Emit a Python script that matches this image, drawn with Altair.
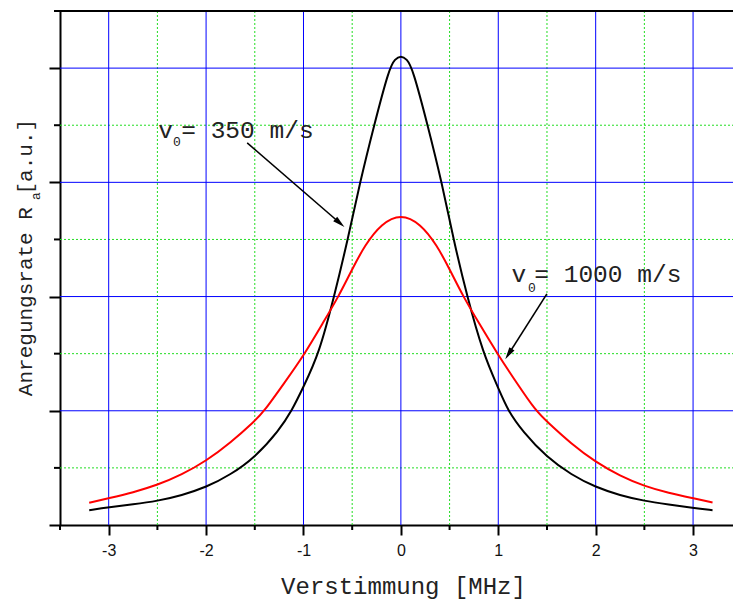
import altair as alt
import pandas as pd

# Excitation-rate profiles versus detuning for two atom velocities
black_x = [-3.2, -3.0, -2.75, -2.5, -2.25, -2.0, -1.75, -1.5, -1.25, -1.12, -1.0, -0.84,
           -0.685, -0.545, -0.42, -0.275, -0.12, -0.06, 0.0, 0.06, 0.12, 0.275, 0.42,
           0.54, 0.68, 0.845, 1.0, 1.10, 1.25, 1.5, 1.75, 2.0, 2.25, 2.5, 2.75, 3.0, 3.2]
black_y = [0.13, 0.155, 0.18, 0.21, 0.26, 0.33, 0.44, 0.59, 0.83, 1.0, 1.21, 1.5,
           2.0, 2.5, 3.0, 3.5, 4.0, 4.08, 4.11, 4.08, 4.0, 3.5, 3.0,
           2.5, 2.0, 1.5, 1.2, 1.0, 0.82, 0.59, 0.44, 0.33, 0.26, 0.21, 0.18, 0.15, 0.13]

red_x = [-3.2, -3.0, -2.75, -2.5, -2.25, -2.0, -1.75, -1.5, -1.4, -1.2, -1.0, -0.8,
         -0.64, -0.5, -0.37, -0.2, 0.0, 0.2, 0.37, 0.5, 0.64, 0.8, 0.99, 1.2, 1.385,
         1.5, 1.75, 2.0, 2.25, 2.5, 2.75, 3.0, 3.2]
red_y = [0.195, 0.234, 0.285, 0.35, 0.44, 0.56, 0.72, 0.91, 1.0, 1.24, 1.48, 1.77,
         2.0, 2.24, 2.45, 2.64, 2.726, 2.64, 2.45, 2.24, 2.0, 1.77, 1.5, 1.23, 1.0,
         0.905, 0.71, 0.55, 0.43, 0.34, 0.28, 0.234, 0.197]

series_names = ["350", "1000"]
series_colors = ["#000000", "#ff0000"]

# axis ticks and grid positions
x_major = [-3, -2, -1, 0, 1, 2, 3]
x_minor = [-3.5, -2.5, -1.5, -0.5, 0.5, 1.5, 2.5]
y_major = [0, 1, 2, 3, 4]
y_minor = [0.5, 1.5, 2.5, 3.5, 4.5]
x_grid_major = [-3, -2, -1, 0, 1, 2, 3]
x_grid_minor = [-2.5, -1.5, -0.5, 0.5, 1.5, 2.5]
y_grid_major = [1, 2, 3, 4]
y_grid_minor = [0.5, 1.5, 2.5, 3.5]

X_MIN, X_MAX = -3.5, 3.41
Y_MIN, Y_MAX = 0.0, 4.5
W, H = 673, 514

X_TITLE = "Verstimmung [MHz]"
Y_TITLE = "Anregungsrate R  [a.u.]"

# tick labels with a plain hyphen for negative values
X_LABELS = "datum.value < 0 ? '-' + abs(datum.value) : '' + datum.value"

curves = pd.concat([
    pd.DataFrame({"x": black_x, "y": black_y, "v": "350"}),
    pd.DataFrame({"x": red_x, "y": red_y, "v": "1000"}),
])

x_scale = alt.Scale(domain=[X_MIN, X_MAX], nice=False, zero=False)
y_scale = alt.Scale(domain=[Y_MIN, Y_MAX], nice=False, zero=False)


def X(field):
    return alt.X(field, type="quantitative", scale=x_scale,
                 axis=alt.Axis(values=x_major, title=X_TITLE, labelExpr=X_LABELS))


def Y(field):
    return alt.Y(field, type="quantitative", scale=y_scale,
                 axis=alt.Axis(values=y_major, title=Y_TITLE, labels=False))


# grid: solid blue at whole units, dotted green at half units
gx_major = alt.Chart(pd.DataFrame({"g": x_grid_major})).mark_rule(
    color="#0000ff", strokeWidth=1).encode(x=X("g"), y=alt.value(0), y2=alt.value(H))
gx_minor = alt.Chart(pd.DataFrame({"g": x_grid_minor})).mark_rule(
    color="#22dd22", strokeWidth=1, strokeDash=[2, 2]).encode(x=X("g"), y=alt.value(0), y2=alt.value(H))
gy_major = alt.Chart(pd.DataFrame({"g": y_grid_major})).mark_rule(
    color="#0000ff", strokeWidth=1).encode(y=Y("g"), x=alt.value(0), x2=alt.value(W))
gy_minor = alt.Chart(pd.DataFrame({"g": y_grid_minor})).mark_rule(
    color="#22dd22", strokeWidth=1, strokeDash=[2, 2]).encode(y=Y("g"), x=alt.value(0), x2=alt.value(W))

# short minor ticks outside the axes
tx_minor = alt.Chart(pd.DataFrame({"t": x_minor})).mark_rule(
    color="#000000", strokeWidth=2).encode(x=X("t"), y=alt.value(H), y2=alt.value(H + 5))
ty_minor = alt.Chart(pd.DataFrame({"t": y_minor})).mark_rule(
    color="#000000", strokeWidth=2).encode(y=Y("t"), x=alt.value(0), x2=alt.value(-6))

lines = alt.Chart(curves).mark_line(strokeWidth=2, interpolate="basis").encode(
    x=X("x"),
    y=Y("y"),
    color=alt.Color("v:N", scale=alt.Scale(domain=series_names, range=series_colors), legend=None),
    detail="v:N",
)

# frame line along the top edge of the plot
top = alt.Chart(pd.DataFrame({"y": [Y_MAX]})).mark_rule(color="#000000", strokeWidth=2).encode(
    y=Y("y"),
    x=alt.value(0),
    x2=alt.value(W),
)

# annotation arrows: shaft from label towards the curve, head at the curve
arrow_x0 = [-1.578, 1.499]
arrow_y0 = [3.345, 2.023]
arrow_x1 = [-0.627, 1.106]
arrow_y1 = [2.644, 1.497]
arrow_angle = [131, 213]

arrows = pd.DataFrame({"x": arrow_x0, "y": arrow_y0, "x2": arrow_x1, "y2": arrow_y1,
                       "hx": arrow_x1, "hy": arrow_y1, "angle": arrow_angle})

shafts = alt.Chart(arrows).mark_rule(color="#000000", strokeWidth=1.6).encode(
    x=X("x"),
    y=Y("y"),
    x2="x2:Q",
    y2="y2:Q",
)

heads = alt.Chart(arrows).mark_point(
    shape="M0,-1L0.5,1L-0.5,1Z", filled=True, color="#000000", opacity=1, size=150
).encode(
    x=X("hx"),
    y=Y("hy"),
    angle=alt.Angle("angle:Q", scale=None),
)

# velocity labels: "v" with subscript "0", then the value
label_v_x = [-2.49, 1.135]
label_v_y = [3.389, 2.128]
label_sub_x = [-2.34, 1.305]
label_sub_y = [3.319, 2.040]
label_rest_x = [-2.255, 1.37]
label_rest = ["= 350 m/s", "= 1000 m/s"]

labels = pd.DataFrame({
    "vx": label_v_x, "vy": label_v_y,
    "sx": label_sub_x, "sy": label_sub_y,
    "rx": label_rest_x, "rest": label_rest,
})

txt_v = alt.Chart(labels).mark_text(
    text="v", font="Liberation Mono", fontSize=24.5, align="left", baseline="alphabetic",
    color="#222222"
).encode(x=X("vx"), y=Y("vy"))

txt_sub = alt.Chart(labels).mark_text(
    text="0", font="Liberation Mono", fontSize=13, align="left", baseline="alphabetic",
    color="#222222"
).encode(x=X("sx"), y=Y("sy"))

txt_rest = alt.Chart(labels).mark_text(
    font="Liberation Mono", fontSize=24.5, align="left", baseline="alphabetic",
    color="#222222"
).encode(x=X("rx"), y=Y("vy"), text="rest:N")

# subscript "a" of the rotated axis title
ysub = alt.Chart(pd.DataFrame({"t": ["a"]})).mark_text(
    font="Liberation Mono", fontSize=13, angle=270, align="center", baseline="alphabetic",
    color="#222222"
).encode(x=alt.value(-20), y=alt.value(185), text="t:N")

chart = alt.layer(
    gx_minor, gy_minor, gx_major, gy_major, tx_minor, ty_minor,
    lines, top, shafts, heads, txt_v, txt_sub, txt_rest, ysub,
).properties(
    width=W,
    height=H,
    autosize=alt.AutoSizeParams(type="none"),
    padding={"left": 60, "top": 11, "right": 0, "bottom": 76},
).configure_view(
    stroke=None
).configure(
    background="#ffffff"
).configure_axis(
    grid=False,
    domainWidth=2, domainColor="#000000",
    tickWidth=2, tickColor="#000000",
    titleFont="Liberation Mono", titleFontWeight="normal", titleColor="#222222",
    labelFont="Liberation Sans", labelColor="#111111",
).configure_axisX(
    tickSize=10,
    labelFontSize=16, labelPadding=7, labelFlush=False, labelOverlap=False,
    titleFontSize=24, titleX=343, titleY=68, titleBaseline="alphabetic",
).configure_axisY(
    tickSize=11,
    titleFontSize=21, titleX=-29, titleY=246, titleBaseline="alphabetic", titleAngle=270,
)

chart.save("out.html", embed_options={"renderer": "svg", "actions": False})
